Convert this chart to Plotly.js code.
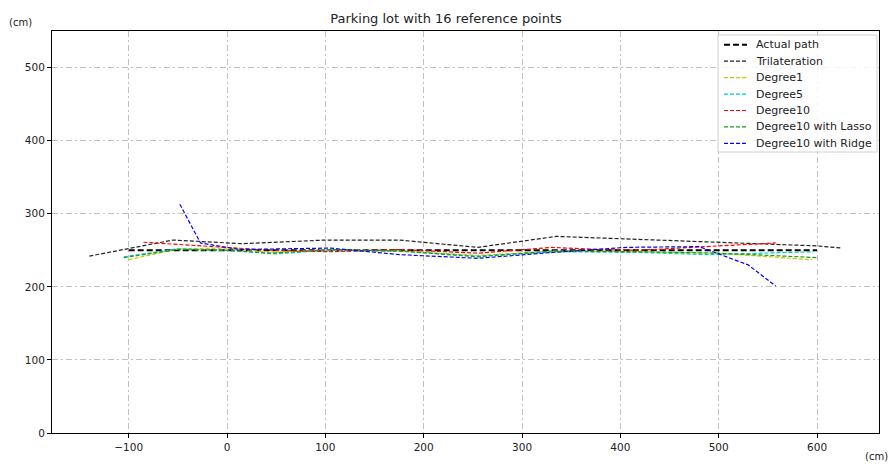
<!DOCTYPE html>
<html>
<head>
<meta charset="utf-8">
<script src="https://cdn.plot.ly/plotly-3.0.1.min.js"></script>
<style>html,body{margin:0;padding:0;background:#fff;}#chart{width:892px;height:466px;}</style>
</head>
<body>
<div id="chart"></div>
<script>
// ---- data (cm) ----
var actualX = [-100, 0, 100, 200, 300, 400, 500, 600];
var actualY = [250, 250, 250, 250, 250, 250, 250, 250];

var trilatX = [-140, -55, 15, 100, 175, 255, 335, 420, 500, 600, 625];
var trilatY = [242, 264, 259, 264, 264, 254, 269, 265, 261, 256, 253];

var deg1X = [-100, -50, 0, 50, 100, 175, 255, 335, 420, 500, 595];
var deg1Y = [237, 252, 253, 247, 251, 249, 243, 249, 248, 246, 237];

var deg5X = [-105, -50, 0, 50, 100, 175, 255, 335, 420, 490, 597];
var deg5Y = [241, 252, 250, 245, 250, 249, 242, 248, 247, 244, 248];

var deg10X = [-85, -50, 0, 45, 105, 175, 255, 330, 380, 420, 500, 558];
var deg10Y = [261, 258, 253, 250, 248, 251, 246, 254, 251, 250, 256, 260];

var lassoX = [-105, -50, 0, 45, 105, 175, 255, 330, 420, 500, 600];
var lassoY = [240, 251, 250, 246, 251, 249, 241, 249, 248, 246, 240];

var ridgeX = [-48, -27, 13, 105, 176, 255, 331, 406, 480, 500, 530, 558];
var ridgeY = [313, 260, 251, 253, 244, 239, 247, 254, 255, 245, 230, 201];

var names = ["Actual path", "Trilateration", "Degree1", "Degree5", "Degree10", "Degree10 with Lasso", "Degree10 with Ridge"];
var colors = ["#000000", "#222222", "#c8c800", "#00c8c8", "#ff0000", "#1a9a1a", "#0000ff"];

var xs = [actualX, trilatX, deg1X, deg5X, deg10X, lassoX, ridgeX];
var ys = [actualY, trilatY, deg1Y, deg5Y, deg10Y, lassoY, ridgeY];

// plot area in pixels
var W = 892, H = 466, ML = 52, MR = 13, MT = 31, MB = 33;
var PW = W - ML - MR, PH = H - MT - MB;
function px2x(p) { return (p - ML) / PW; }
function py2y(p) { return (H - MB - p) / PH; }

var traces = [];
var shapes = [];
var annotations = [];
for (var i = 0; i < names.length; i++) {
  var thick = (i === 0);
  var ln = {color: colors[i], width: thick ? 2 : 1.2, dash: thick ? '6px,3px' : '4px,2px'};
  traces.push({x: xs[i], y: ys[i], name: names[i], type: 'scatter', mode: 'lines', line: ln, showlegend: false});
}

// legend box (matplotlib-like)
var lx0 = 718, lx1 = 877, ly0 = 35, ly1 = 152, r = 3;
var bx0 = px2x(lx0), bx1 = px2x(lx1), by0 = py2y(ly0), by1 = py2y(ly1);
shapes.push({type: 'rect', xref: 'paper', yref: 'paper', x0: bx0, x1: bx1, y0: by1, y1: by0,
             fillcolor: 'rgba(255,255,255,0.85)', line: {color: '#d0d0d0', width: 1}, layer: 'above'});
for (var j = 0; j < names.length; j++) {
  var cy = 44.7 + j * 16.45;
  var thickL = (j === 0);
  shapes.push({type: 'line', xref: 'paper', yref: 'paper', x0: px2x(724), x1: px2x(747), y0: py2y(cy), y1: py2y(cy),
               line: {color: colors[j], width: thickL ? 2 : 1.2, dash: thickL ? '6px,3px' : '4px,2px'}, layer: 'above'});
  annotations.push({text: names[j], xref: 'paper', yref: 'paper', x: px2x(754), y: py2y(cy), xanchor: 'left', yanchor: 'middle',
                    showarrow: false, font: {size: 11, color: '#222'}});
}

annotations.push({text: '(cm)', xref: 'paper', yref: 'paper', x: -0.054, y: 1.02, xanchor: 'left', yanchor: 'middle',
                  showarrow: false, font: {size: 10, color: '#222'}});
annotations.push({text: '(cm)', xref: 'paper', yref: 'paper', x: 1.013, y: -0.077, xanchor: 'right', yanchor: 'bottom',
                  showarrow: false, font: {size: 10, color: '#222'}});

var gridColor = '#c0c0c0';
var layout = {
  width: W, height: H,
  margin: {l: ML, r: MR, t: MT, b: MB},
  paper_bgcolor: '#fff', plot_bgcolor: '#fff',
  font: {family: 'DejaVu Sans, sans-serif', size: 10, color: '#222'},
  title: {text: 'Parking lot with 16 reference points', x: 0.5, xanchor: 'center', y: 0.961, yanchor: 'middle',
          font: {size: 13, color: '#222'}},
  showlegend: false,
  xaxis: {range: [-178, 663], tickvals: [-100, 0, 100, 200, 300, 400, 500, 600],
          ticktext: ['\u2212100', '0', '100', '200', '300', '400', '500', '600'],
          showgrid: true, gridcolor: gridColor, griddash: '6px,3px,2px,3px', gridwidth: 1,
          zeroline: false, showline: true, linecolor: '#000', linewidth: 1, mirror: true,
          ticks: 'outside', ticklen: 4, tickcolor: '#000', tickfont: {size: 10.5}},
  yaxis: {range: [0, 550], tickvals: [0, 100, 200, 300, 400, 500],
          showgrid: true, gridcolor: gridColor, griddash: '6px,3px,2px,3px', gridwidth: 1,
          zeroline: false, showline: true, linecolor: '#000', linewidth: 1, mirror: true,
          ticks: 'outside', ticklen: 4, tickcolor: '#000', tickfont: {size: 10.5}},
  shapes: shapes,
  annotations: annotations
};

Plotly.newPlot('chart', traces, layout, {displayModeBar: false, staticPlot: true});
</script>
</body>
</html>
